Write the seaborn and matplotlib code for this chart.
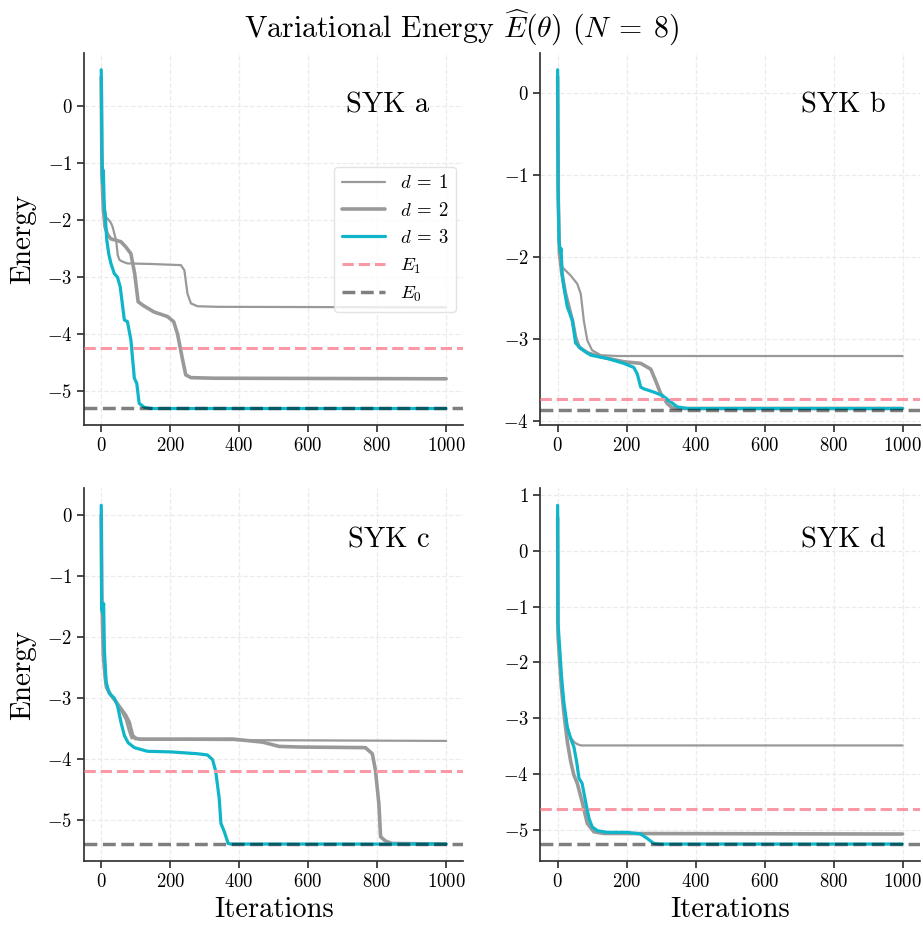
import matplotlib
matplotlib.use("Agg")
import matplotlib.pyplot as plt
import seaborn as sns

# iteration / energy values, one list per curve
a_d1_x = [0, 2, 6, 14, 22, 28, 33, 38, 43, 48, 53, 62, 76, 144, 231, 241, 250, 260, 279, 337, 1000]
a_d1_y = [0.3, -0.9, -1.6, -1.95, -2.0, -2.05, -2.12, -2.24, -2.35, -2.62, -2.70, -2.73, -2.76, -2.77,
          -2.79, -2.88, -3.29, -3.46, -3.51, -3.52, -3.53]
a_d2_x = [0, 2, 6, 11, 18, 28, 57, 71, 86, 97, 107, 120, 153, 192, 210, 221, 236, 245, 260, 330, 1000]
a_d2_y = [0.5, -1.2, -1.8, -2.12, -2.25, -2.33, -2.38, -2.47, -2.59, -2.94, -3.43, -3.49, -3.61, -3.69,
          -3.78, -3.99, -4.45, -4.71, -4.76, -4.77, -4.78]
a_d3_x = [0, 2, 4, 6, 9, 12, 16, 22, 28, 38, 47, 55, 67, 76, 86, 96, 103, 110, 125, 144, 1000]
a_d3_y = [0.63, -0.8, -1.36, -1.13, -1.8, -1.95, -2.35, -2.6, -2.76, -2.94, -3.0, -3.17, -3.75, -3.78,
          -4.1, -4.77, -4.86, -5.21, -5.28, -5.30, -5.30]

b_d1_x = [0, 2, 4, 10, 14, 38, 57, 67, 76, 86, 100, 125, 173, 1000]
b_d1_y = [0.1, -1.2, -1.85, -2.05, -2.13, -2.23, -2.33, -2.45, -2.78, -3.02, -3.14, -3.20, -3.21, -3.21]
b_d2_x = [0, 2, 5, 12, 23, 43, 52, 62, 86, 125, 192, 241, 270, 284, 299, 318, 332, 357, 1000]
b_d2_y = [0.2, -1.3, -1.95, -2.2, -2.45, -2.78, -2.98, -3.1, -3.17, -3.22, -3.28, -3.3, -3.37, -3.51,
          -3.67, -3.79, -3.84, -3.85, -3.85]
b_d3_x = [0, 1, 4, 8, 10, 13, 18, 28, 43, 52, 67, 96, 144, 192, 221, 231, 241, 250, 279, 303, 328,
          347, 376, 1000]
b_d3_y = [0.28, -1.15, -1.8, -1.95, -1.9, -2.2, -2.37, -2.61, -2.78, -3.05, -3.12, -3.2, -3.24, -3.30,
          -3.35, -3.43, -3.59, -3.61, -3.65, -3.69, -3.77, -3.83, -3.85, -3.85]

c_d1_x = [0, 2, 6, 11, 15, 28, 43, 57, 71, 81, 88, 95, 110, 1000]
c_d1_y = [0.1, -1.3, -2.2, -2.7, -2.82, -2.95, -3.06, -3.2, -3.35, -3.55, -3.66, -3.62, -3.68, -3.70]
c_d2_x = [0, 2, 6, 11, 15, 28, 43, 57, 71, 81, 91, 98, 113, 382, 468, 516, 574, 766, 786, 795, 805,
          810, 824, 843, 1000]
c_d2_y = [0.0, -1.4, -2.3, -2.63, -2.82, -2.95, -3.06, -3.17, -3.28, -3.39, -3.61, -3.66, -3.67, -3.67,
          -3.72, -3.79, -3.80, -3.81, -3.91, -4.18, -4.73, -5.27, -5.34, -5.38, -5.39]
c_d3_x = [0, 1, 4, 7, 9, 14, 23, 38, 47, 57, 67, 78, 96, 134, 202, 279, 308, 323, 332, 342, 347, 357,
          368, 376, 1000]
c_d3_y = [0.16, -1.54, -1.6, -1.45, -2.19, -2.73, -2.92, -3.0, -3.12, -3.39, -3.61, -3.73, -3.81, -3.87,
          -3.88, -3.91, -3.93, -4.01, -4.2, -4.64, -5.05, -5.19, -5.38, -5.39, -5.39]

d_d1_x = [0, 1, 6, 11, 18, 28, 38, 48, 58, 68, 100, 1000]
d_d1_y = [0.5, -1.4, -1.9, -2.3, -2.75, -3.15, -3.35, -3.43, -3.47, -3.49, -3.49, -3.49]
d_d2_x = [0, 1, 6, 11, 18, 28, 38, 47, 57, 71, 86, 105, 134, 1000]
d_d2_y = [0.6, -1.5, -2.0, -2.45, -2.9, -3.42, -3.78, -4.02, -4.17, -4.5, -4.89, -5.04, -5.07, -5.08]
d_d3_x = [0, 1, 6, 11, 18, 28, 38, 47, 55, 62, 71, 81, 91, 100, 115, 144, 202, 241, 260, 279, 299, 1000]
d_d3_y = [0.82, -1.28, -1.75, -2.23, -2.71, -3.16, -3.37, -3.51, -3.78, -4.08, -4.17, -4.5, -4.8, -4.95,
          -5.02, -5.05, -5.05, -5.08, -5.16, -5.25, -5.26, -5.26]

# exact ground / first excited energies per instance
panel_names = ["SYK a", "SYK b", "SYK c", "SYK d"]
E0_vals = [-5.30, -3.865, -5.39, -5.26]
E1_vals = [-4.24, -3.73, -4.19, -4.63]

curves = [
    [(a_d1_x, a_d1_y), (a_d2_x, a_d2_y), (a_d3_x, a_d3_y)],
    [(b_d1_x, b_d1_y), (b_d2_x, b_d2_y), (b_d3_x, b_d3_y)],
    [(c_d1_x, c_d1_y), (c_d2_x, c_d2_y), (c_d3_x, c_d3_y)],
    [(d_d1_x, d_d1_y), (d_d2_x, d_d2_y), (d_d3_x, d_d3_y)],
]
depth_labels = [r"$d\:=\:1$", r"$d\:=\:2$", r"$d\:=\:3$"]
depth_colors = ["#999999", "#999999", "#0fb5c8"]
depth_widths = [1.6, 2.6, 2.3]

sns.set_theme(style="ticks")
plt.rcParams["font.family"] = "serif"
plt.rcParams["font.serif"] = ["cmr10"]
plt.rcParams["mathtext.fontset"] = "cm"
plt.rcParams["axes.formatter.use_mathtext"] = True
plt.rcParams["axes.unicode_minus"] = True
plt.rcParams["text.color"] = "black"
plt.rcParams["axes.labelcolor"] = "black"
plt.rcParams["xtick.labelcolor"] = "black"
plt.rcParams["ytick.labelcolor"] = "black"

fig, axes = plt.subplots(2, 2, figsize=(9.23, 9.27), dpi=100)
fig.subplots_adjust(left=0.091, right=0.9965, bottom=0.0712, top=0.943, wspace=0.203, hspace=0.169)

for i, ax in enumerate(axes.flat):
    for (xs, ys), lab, col, lw in zip(curves[i], depth_labels, depth_colors, depth_widths):
        sns.lineplot(x=xs, y=ys, ax=ax, color=col, linewidth=lw, label=lab,
                     estimator=None, legend=False)
    ax.axhline(E1_vals[i], color="#fa98a5", linestyle="--", linewidth=2.2, label="$E_1$", zorder=4)
    ax.axhline(E0_vals[i], color="black", alpha=0.5, linestyle="--", linewidth=2.5, label="$E_0$", zorder=5)

    ax.grid(True, linestyle="--", color="#ebebeb", linewidth=0.9)
    ax.set_axisbelow(True)
    ax.tick_params(axis="both", labelsize=13.5, length=5, color="#333333")
    ax.set_xticks([0, 200, 400, 600, 800, 1000])
    ax.text(0.91, 0.895, panel_names[i], transform=ax.transAxes, ha="right", va="top", fontsize=20.5)
    for s in ["left", "bottom"]:
        ax.spines[s].set_color("#333333")
    sns.despine(ax=ax)

    if i % 2 == 0:
        ax.set_ylabel("Energy", fontsize=21, labelpad=8)
    if i >= 2:
        ax.set_xlabel("Iterations", fontsize=20.5, labelpad=4)

axes[0, 0].legend(loc="center right", fontsize=13.5, handlelength=2.3, frameon=True,
                  edgecolor="#dddddd", borderaxespad=0.4)

fig.suptitle(r"Variational Energy $\widehat{E}(\theta)$ $(N\:=\:8)$", fontsize=21.5, y=0.992)

fig.savefig("out.png", dpi=100)
